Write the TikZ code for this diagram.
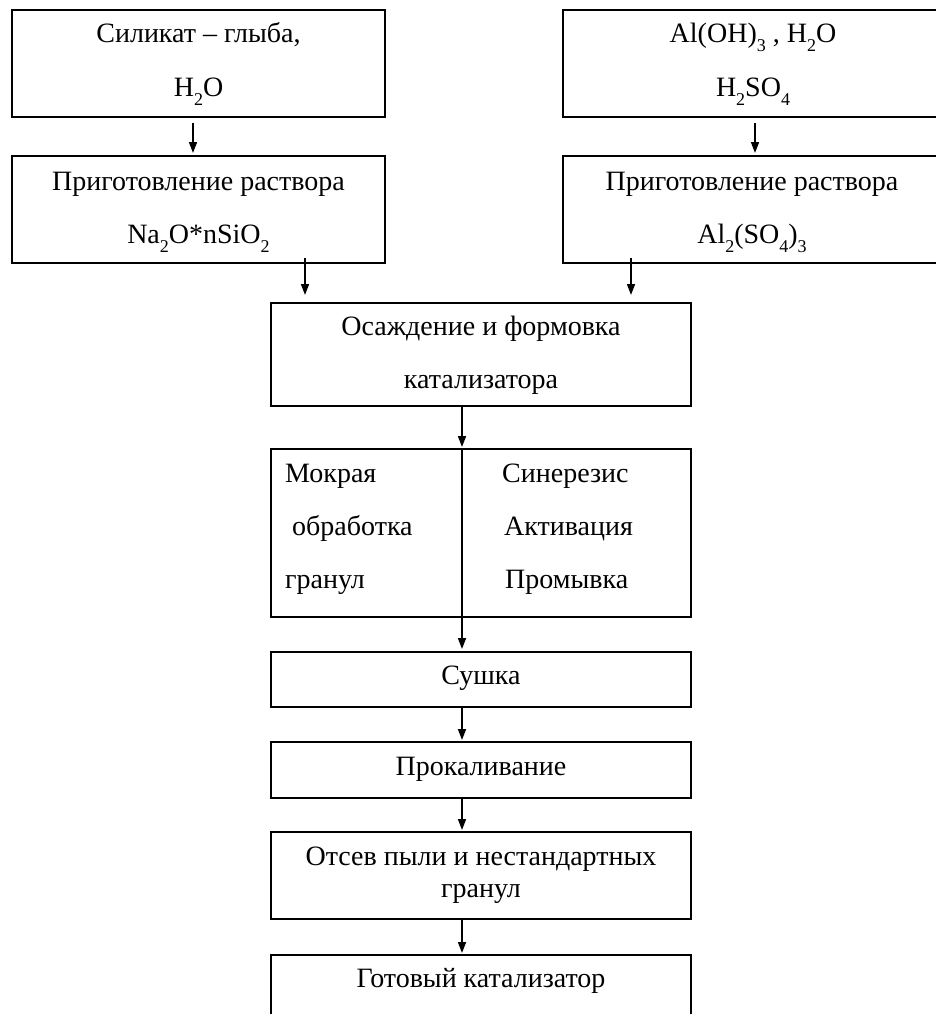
\documentclass[tikz,border=0pt]{standalone}
\usepackage{fontspec}
\setmainfont{Liberation Serif}
\usetikzlibrary{arrows.meta,calc}
\newcommand{\chs}[1]{\raisebox{-9pt}{\fontsize{18}{18}\selectfont #1}}
\begin{document}
\begin{tikzpicture}[x=1pt,y=-1pt,
 box/.style={draw,line width=2pt,rectangle,inner sep=0pt,outer sep=0pt},
 arr/.style={line width=1.6pt,-{Triangle[length=11pt,width=8pt]}},
 lin/.style={line width=1.6pt},
 txt/.style={anchor=base,inner sep=0pt,font=\fontsize{28}{33}\selectfont},
 txl/.style={anchor=base west,inner sep=0pt,font=\fontsize{28}{33}\selectfont},
 ]
\useasboundingbox (0,0) rectangle (936,1014);
\clip (0,0) rectangle (936,1014);
% boxes
\node[box,minimum width=373pt,minimum height=107pt] (A) at (198.5,63.5) {};
\node[box,minimum width=382pt,minimum height=107pt] (B) at (754,63.5) {};
\node[box,minimum width=373pt,minimum height=107pt] (C) at (198.5,209.5) {};
\node[box,minimum width=382pt,minimum height=107pt] (D) at (754,209.5) {};
\node[box,minimum width=420pt,minimum height=103pt] (E) at (481,354.5) {};
\node[box,minimum width=420pt,minimum height=168pt] (F) at (481,533) {};
\node[box,minimum width=420pt,minimum height=55pt] (G) at (481,679.5) {};
\node[box,minimum width=420pt,minimum height=56pt] (H) at (481,770) {};
\node[box,minimum width=420pt,minimum height=87pt] (I) at (481,875.5) {};
\node[box,minimum width=420pt,minimum height=75pt] (J) at (481,992.5) {};
% connector x positions
\coordinate (xa) at (193,0);
\coordinate (xb) at (755,0);
\coordinate (xc) at (305,0);
\coordinate (xd) at (631,0);
\coordinate (xm) at (462,0);
% connectors
\draw[arr,shorten <=6pt,shorten >=3pt] (A.south -| xa) -- (C.north -| xa);
\draw[arr,shorten <=6pt,shorten >=3pt] (B.south -| xb) -- (D.north -| xb);
\draw[arr,shorten <=-5pt,shorten >=8pt] (C.south -| xc) -- (E.north -| xc);
\draw[arr,shorten <=-5pt,shorten >=8pt] (D.south -| xd) -- (E.north -| xd);
\draw[arr,shorten >=2pt] (E.south -| xm) -- (F.north -| xm);
\draw[lin] (F.north -| xm) -- (F.south -| xm);
\draw[arr,shorten >=3pt] (F.south -| xm) -- (G.north -| xm);
\draw[arr,shorten >=2pt] (G.south -| xm) -- (H.north -| xm);
\draw[arr,shorten >=2pt] (H.south -| xm) -- (I.north -| xm);
\draw[arr,shorten >=2pt] (I.south -| xm) -- (J.north -| xm);
% texts
\node[txt] (tA1) at (198.5,43) {Силикат – глыба,};
\node[txt] (tA2) at (198.5,97) {H\chs{2}O};
\node[txt] (tB1) at (753,43) {Al(OH)\chs{3} , H\chs{2}O};
\node[txt] (tB2) at (753,97) {H\chs{2}SO\chs{4}};
\node[txt] (tC1) at (198.5,190) {Приготовление раствора};
\node[txt] (tC2) at (198.5,243) {Na\chs{2}O*nSiO\chs{2}};
\node[txt] (tD1) at (752,190) {Приготовление раствора};
\node[txt] (tD2) at (752,243) {Al\chs{2}(SO\chs{4})\chs{3}};
\node[txt] (tE1) at (481,335) {Осаждение и формовка};
\node[txt] (tE2) at (481,388) {катализатора};
\node[txl] (tF1) at (285,482) {Мокрая};
\node[txl] (tF2) at (292,535) {обработка};
\node[txl] (tF3) at (285,588) {гранул};
\node[txl] (tF4) at (502,482) {Синерезис};
\node[txl] (tF5) at (504,535) {Активация};
\node[txl] (tF6) at (505,588) {Промывка};
\node[txt] (tG) at (481,684) {Сушка};
\node[txt] (tH) at (481,775) {Прокаливание};
\node[txt] (tI1) at (481,865) {Отсев пыли и нестандартных};
\node[txt] (tI2) at (481,897) {гранул};
\node[txt] (tJ) at (481,987) {Готовый катализатор};
\end{tikzpicture}
\end{document}
